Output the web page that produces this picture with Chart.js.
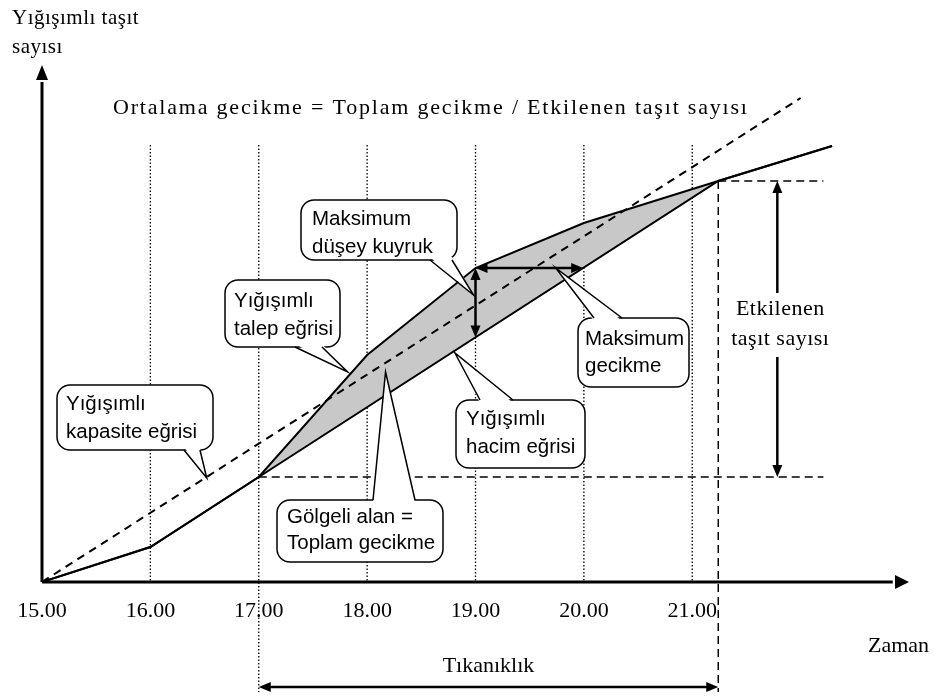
<!DOCTYPE html>
<html>
<head>
<meta charset="utf-8">
<script src="https://cdn.jsdelivr.net/npm/chart.js@4"></script>
<style>
  body { margin: 0; background: #fff; }
</style>
</head>
<body>
<canvas id="chart" width="934" height="696"></canvas>
<script>
// saat ekseni
const hours = [15, 16, 17, 18, 19, 20, 21];
const tickLabels = ['15.00', '16.00', '17.00', '18.00', '19.00', '20.00', '21.00'];

// yığışımlı eğriler (saat, taşıt)
const demandX = [15, 16, 17, 18, 19, 20, 21.24, 22.29];
const demandY = [0, 35, 105, 227, 314, 359, 401, 436];
const volumeX = [15, 16, 17, 21.24, 22.29];
const volumeY = [0, 35, 105, 401, 436];
const capacityX = [15, 22];
const capacityY = [0, 484];

const congestionStart = 17;
const congestionEnd = 21.24;
const maxQueueHour = 19;

const toPts = (xs, ys) => xs.map((x, i) => ({ x: x, y: ys[i] }));

function valueAt(xs, ys, v) {
    for (let i = 1; i < xs.length; i++) {
        if (v <= xs[i]) return ys[i - 1] + (ys[i] - ys[i - 1]) * (v - xs[i - 1]) / (xs[i] - xs[i - 1]);
    }
    return ys[ys.length - 1];
}
function hourAt(xs, ys, v) {
    for (let i = 1; i < ys.length; i++) {
        if (v <= ys[i]) return xs[i - 1] + (xs[i] - xs[i - 1]) * (v - ys[i - 1]) / (ys[i] - ys[i - 1]);
    }
    return xs[xs.length - 1];
}

function seg(ctx, x1, y1, x2, y2) {
    ctx.beginPath();
    ctx.moveTo(x1, y1);
    ctx.lineTo(x2, y2);
    ctx.stroke();
}
function head(ctx, x1, y1, x2, y2, len, w) {
    const a = Math.atan2(y2 - y1, x2 - x1);
    const c = Math.cos(a), s = Math.sin(a);
    ctx.beginPath();
    ctx.moveTo(x2, y2);
    ctx.lineTo(x2 - len * c + w * s, y2 - len * s - w * c);
    ctx.lineTo(x2 - len * c - w * s, y2 - len * s + w * c);
    ctx.closePath();
    ctx.fill();
}
function dblArrow(ctx, x1, y1, x2, y2) {
    const a = Math.atan2(y2 - y1, x2 - x1);
    ctx.lineWidth = 2.5;
    seg(ctx, x1 + 8 * Math.cos(a), y1 + 8 * Math.sin(a), x2 - 8 * Math.cos(a), y2 - 8 * Math.sin(a));
    head(ctx, x2, y2, x1, y1, 12, 5);
    head(ctx, x1, y1, x2, y2, 12, 5);
}

// box: [left, top, right, bottom], base: two points on the edge, tip: pixel point
function callout(ctx, box, base, tip, lines, baselines, pad) {
    const [l, t, r, b] = box;
    ctx.fillStyle = '#fff';
    ctx.strokeStyle = '#000';
    ctx.lineWidth = 1.5;
    ctx.setLineDash([]);
    ctx.beginPath();
    ctx.roundRect(l, t, r - l, b - t, 13);
    ctx.fill();
    ctx.stroke();
    const cx = (l + r) / 2, cy = (t + b) / 2;
    const inw = p => {
        const dx = cx - p[0], dy = cy - p[1];
        const horiz = Math.abs(p[1] - t) < 1 || Math.abs(p[1] - b) < 1;
        return horiz ? [p[0], p[1] + Math.sign(dy) * 3] : [p[0] + Math.sign(dx) * 3, p[1]];
    };
    const a = inw(base[0]), c = inw(base[1]);
    ctx.beginPath();
    ctx.moveTo(a[0], a[1]);
    ctx.lineTo(tip[0], tip[1]);
    ctx.lineTo(c[0], c[1]);
    ctx.closePath();
    ctx.fill();
    ctx.beginPath();
    ctx.moveTo(base[0][0], base[0][1]);
    ctx.lineTo(tip[0], tip[1]);
    ctx.lineTo(base[1][0], base[1][1]);
    ctx.stroke();
    ctx.fillStyle = '#000';
    ctx.font = '20.5px "Liberation Sans", Arial, sans-serif';
    ctx.textAlign = 'left';
    ctx.textBaseline = 'alphabetic';
    lines.forEach((s, i) => ctx.fillText(s, l + (pad || 11), baselines[i]));
}

const serif = '"Liberation Serif", "Times New Roman", serif';

const annot = {
    id: 'annot',
    beforeDraw(chart) {
        const { ctx, scales: { x, y } } = chart;
        ctx.save();
        ctx.strokeStyle = '#000';
        ctx.lineWidth = 1.3;
        ctx.setLineDash([1.5, 2]);
        hours.slice(1).forEach(h => {
            const bottom = h === congestionStart ? -110 : 0;
            seg(ctx, x.getPixelForValue(h), y.getPixelForValue(437), x.getPixelForValue(h), y.getPixelForValue(bottom));
        });
        ctx.restore();
    },
    afterDatasetsDraw(chart) {
        const { ctx, scales: { x, y } } = chart;
        const X = v => x.getPixelForValue(v), Y = v => y.getPixelForValue(v);
        const endY = valueAt(demandX, demandY, congestionEnd);
        const startY = valueAt(volumeX, volumeY, congestionStart);
        ctx.save();
        ctx.strokeStyle = '#000';
        ctx.fillStyle = '#000';

        // kesikli yardımcı çizgiler
        ctx.lineWidth = 1.5;
        ctx.setLineDash([8, 5]);
        seg(ctx, X(congestionEnd), Y(endY), X(22.21), Y(endY));
        seg(ctx, X(congestionStart), Y(startY), X(22.21), Y(startY));
        seg(ctx, X(congestionEnd), Y(endY), X(congestionEnd), Y(-110));
        ctx.setLineDash([]);

        // Etkilenen taşıt sayısı oku
        const ex = X(21.785);
        ctx.lineWidth = 2.5;
        seg(ctx, ex, Y(endY) + 8, ex, 293);
        seg(ctx, ex, 357, ex, Y(startY) - 8);
        head(ctx, ex, Y(endY) + 20, ex, Y(endY), 12, 5);
        head(ctx, ex, Y(startY) - 20, ex, Y(startY), 12, 5);

        // Tıkanıklık oku
        dblArrow(ctx, X(congestionStart), Y(-105), X(congestionEnd), Y(-105));

        // maksimum kuyruk ve gecikme okları
        const qTop = valueAt(demandX, demandY, maxQueueHour);
        const qBot = valueAt(volumeX, volumeY, maxQueueHour);
        dblArrow(ctx, X(maxQueueHour), Y(qTop), X(maxQueueHour), Y(qBot));
        dblArrow(ctx, X(maxQueueHour), Y(qTop), X(hourAt(volumeX, volumeY, qTop)), Y(qTop));

        // eksenler
        ctx.lineWidth = 3;
        seg(ctx, X(15), Y(0), X(15), Y(500));
        head(ctx, X(15), Y(480), X(15), Y(517), 15, 6);
        seg(ctx, X(15), Y(0), X(22.85), Y(0));
        head(ctx, X(22.7), Y(0), X(23), Y(0), 14, 7);

        // metinler
        ctx.font = '22px ' + serif;
        ctx.textBaseline = 'alphabetic';
        ctx.textAlign = 'center';
        hours.forEach((h, i) => ctx.fillText(tickLabels[i], X(h), 617));
        ctx.fillText('Tıkanıklık', (X(congestionStart) + X(congestionEnd)) / 2, 672);
        ctx.letterSpacing = '0.5px';
        ctx.fillText('Etkilenen', ex + 3, 315);
        ctx.fillText('taşıt sayısı', ex + 3, 345);
        ctx.letterSpacing = '0px';
        ctx.textAlign = 'left';
        ctx.fillText('Zaman', 868, 652);
        ctx.font = '21px ' + serif;
        ctx.letterSpacing = '0.5px';
        ctx.fillText('Yığışımlı taşıt', 12, 24);
        ctx.fillText('sayısı', 12, 53);
        ctx.font = '22px ' + serif;
        ctx.letterSpacing = '1.8px';
        ctx.fillText('Ortalama gecikme = Toplam gecikme / Etkilenen taşıt sayısı', 113, 114);
        ctx.letterSpacing = '0px';

        // açıklama balonları
        callout(ctx, [301, 200, 457, 260], [[430, 260], [452, 260]], [X(maxQueueHour) - 2, Y(287)],
            ['Maksimum', 'düşey kuyruk'], [225, 253]);
        callout(ctx, [225, 280, 340, 347], [[295, 347], [322, 347]], [X(17.82), Y(210)],
            ['Yığışımlı', 'talep eğrisi'], [307, 335], 9);
        callout(ctx, [57, 385, 213, 450], [[184, 450], [200, 450]], [X(16.52), Y(104)],
            ['Yığışımlı', 'kapasite eğrisi'], [410, 438], 9);
        callout(ctx, [578, 318, 689, 387], [[594, 318], [622, 318]], [X(19.74), Y(qTop)],
            ['Maksimum', 'gecikme'], [345, 372], 7);
        callout(ctx, [456, 400, 585, 468], [[480, 400], [513, 400]], [X(18.81), Y(229)],
            ['Yığışımlı', 'hacim eğrisi'], [425, 453], 10);
        callout(ctx, [277, 500, 443, 562], [[373, 500], [415, 500]], [X(18.17), Y(210)],
            ['Gölgeli alan =', 'Toplam gecikme'], [523, 549], 10);
        ctx.restore();
    }
};

const ctx = document.getElementById('chart').getContext('2d');
const chart = new Chart(ctx, {
    type: 'scatter',
    data: {
        datasets: [{
            label: 'Yığışımlı talep eğrisi',
            data: toPts(demandX, demandY),
            showLine: true,
            borderColor: '#000',
            borderWidth: 2,
            pointRadius: 0,
            fill: '+1',
            backgroundColor: '#c8c8c8'
        }, {
            label: 'Yığışımlı hacim eğrisi',
            data: toPts(volumeX, volumeY),
            showLine: true,
            borderColor: '#000',
            borderWidth: 2,
            pointRadius: 0,
            fill: false
        }, {
            label: 'Yığışımlı kapasite eğrisi',
            data: toPts(capacityX, capacityY),
            showLine: true,
            borderColor: '#000',
            borderWidth: 2,
            borderDash: [8, 6],
            pointRadius: 0,
            fill: false
        }]
    },
    options: {
        responsive: false,
        animation: false,
        devicePixelRatio: 1,
        layout: { padding: { left: 42, top: 65, right: 25, bottom: 114 } },
        scales: {
            x: { type: 'linear', min: 15, max: 23, display: false },
            y: { type: 'linear', min: 0, max: 517, display: false }
        },
        plugins: {
            legend: { display: false },
            tooltip: { enabled: false },
            filler: { drawTime: 'beforeDatasetsDraw' }
        }
    },
    plugins: [annot]
});
</script>
</body>
</html>
